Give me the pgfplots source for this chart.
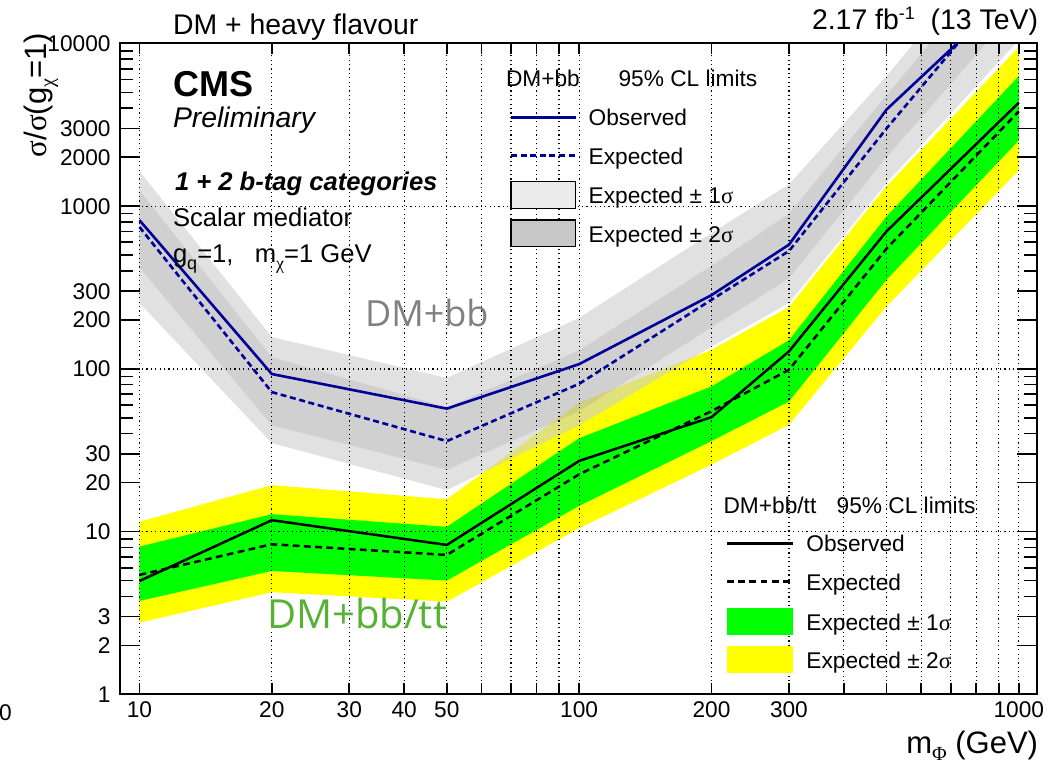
\documentclass[border=0pt]{standalone}
\usepackage{pgfplots}
\pgfplotsset{compat=1.18}
\usepackage{pgfplotstable}
\usepgfplotslibrary{fillbetween}
\usepackage{fontspec}
\setmainfont{Liberation Sans}
\newfontfamily\symf{Liberation Serif}
\newfontfamily\labf{Open Sans}
\definecolor{bblue}{RGB}{0,0,153}
\definecolor{bgreen}{RGB}{0,255,0}
\definecolor{byellow}{RGB}{255,255,0}
\definecolor{tgreen}{RGB}{87,178,52}
\definecolor{tgray}{RGB}{128,128,128}
\definecolor{band2}{RGB}{205,205,205}
\newcommand\fa{\fontsize{11.35}{13.6}\selectfont}
\newcommand\fb{\fontsize{12.8}{15.4}\selectfont}
\newcommand\fc{\fontsize{14.2}{17}\selectfont}
\newcommand\fd{\fontsize{15.5}{18}\selectfont}
\newcommand\sub[1]{\raisebox{-3.2pt}{\fontsize{9}{9}\selectfont #1}}
\newcommand\subb[1]{\raisebox{-3.6pt}{\fontsize{10}{10}\selectfont #1}}
\newcommand\yl[1]{#1\kern1.2pt}

% DM+bb/tt combined limits
\pgfplotstableread{
m obs exp lo1 hi1 lo2 hi2
10 4.97 5.42 3.75 8.09 2.76 11.5
20 11.75 8.36 5.73 12.8 4.24 19.3
50 8.28 7.19 5.0 10.7 3.71 15.8
100 27.2 22.5 14.4 37.5 10.5 62
200 50.5 55 36 78 25.8 131
300 128 98.7 63 150 45.3 240
500 700 548 353 865 242 1325
1000 4330 3830 2540 6310 1660 9500
}\bbtt

% DM+bb limits
\pgfplotstableread{
m obs exp lo1 hi1 lo2 hi2
10 820 745 420 1250 254 1640
20 93 72 45 118 35 157
50 57 36 24 58 18 88
100 107 81 55 130 45 206
200 284 266 180 430 137 684
300 580 530 360 900 254 1361
500 3925 3000 2000 4800 1390 6300
1000 22700 28000 17000 45000 10500 60000
}\bb

\pgfplotsset{layers/rootlike/.define layer set={axis background,axis grid,pre main,main,axis ticks,axis lines,axis tick labels,axis descriptions,axis foreground}{}}
\tikzset{txt/.style={inner sep=0pt, outer sep=0pt}}

\begin{document}
\begin{tikzpicture}
\begin{axis}[
  set layers=rootlike,
  at={(60pt,-347.15pt)}, anchor=south west,
  scale only axis, width=458.25pt, height=325.4pt,
  xmode=log, ymode=log,
  xmin=9.03, xmax=1097, ymin=1, ymax=10000,
  axis line style={line width=1pt},
  every tick/.style={black, line width=0.8pt},
  tick align=inside,
  xtick={10,20,30,40,50,60,70,80,90,100,200,300,400,500,600,700,800,900,1000},
  xticklabels={10,20,30,40,50,\mbox{},\mbox{},\mbox{},\mbox{},100,200,300,\mbox{},\mbox{},\mbox{},\mbox{},\mbox{},\mbox{},1000},
  xtick style={/pgfplots/major tick length=5.5pt},
  extra x ticks={10,20,50,100,200,1000},
  extra x tick labels={\mbox{},\mbox{},\mbox{},\mbox{},\mbox{},\mbox{}},
  extra x tick style={grid=none, /pgfplots/major tick length=9.5pt},
  ytick={1,10,100,1000,10000},
  yticklabels={\yl{1},\yl{10},\yl{100},\yl{1000},\yl{10000}},
  ytick style={/pgfplots/major tick length=10pt},
  extra y ticks={2,3,20,30,200,300,2000,3000},
  extra y tick labels={\yl{2},\yl{3},\yl{20},\yl{30},\yl{200},\yl{300},\yl{2000},\yl{3000}},
  extra y tick style={grid=none, /pgfplots/major tick length=6.5pt},
  minor ytick={4,5,6,7,8,9,40,50,60,70,80,90,400,500,600,700,800,900,4000,5000,6000,7000,8000,9000},
  minor tick length=6.5pt,
  xmajorgrids, ymajorgrids,
  major grid style={black, line width=0.6pt, dash pattern=on 0.6pt off 1.6pt},
  ticklabel style={font=\fa},
  no markers,
]
% DM+bb/tt bands
\addplot[draw=none, name path=yhi] table[x=m,y=hi2]{\bbtt};
\addplot[draw=none, name path=ylo] table[x=m,y=lo2]{\bbtt};
\addplot[fill=byellow, draw=none] fill between[of=yhi and ylo];
\addplot[draw=none, name path=ghi] table[x=m,y=hi1]{\bbtt};
\addplot[draw=none, name path=glo] table[x=m,y=lo1]{\bbtt};
\addplot[fill=bgreen, draw=none] fill between[of=ghi and glo];
% DM+bb bands
\addplot[draw=none, name path=bhi2] table[x=m,y=hi2]{\bb};
\addplot[draw=none, name path=blo2] table[x=m,y=lo2]{\bb};
\addplot[fill=band2, fill opacity=0.6, draw=none] fill between[of=bhi2 and blo2];
\addplot[draw=none, name path=bhi1] table[x=m,y=hi1]{\bb};
\addplot[draw=none, name path=blo1] table[x=m,y=lo1]{\bb};
\addplot[fill=black!40, fill opacity=0.24, draw=none] fill between[of=bhi1 and blo1];
% lines
\addplot[black, line width=1.25pt, dash pattern=on 3.4pt off 2.2pt] table[x=m,y=exp]{\bbtt};
\addplot[black, line width=1.25pt] table[x=m,y=obs]{\bbtt};
\addplot[bblue, line width=1.3pt, dash pattern=on 3pt off 1.8pt] table[x=m,y=exp]{\bb};
\addplot[bblue, line width=1.3pt] table[x=m,y=obs]{\bb};
\end{axis}

% titles and labels
\node[txt, anchor=base west, font=\fc] at (86.5pt,-17.5pt) {DM + heavy flavour};
\node[txt, anchor=base east, font=\fc] at (519pt,-15pt) {2.17 fb\raisebox{5pt}{\fontsize{9}{9}\selectfont -1}\ \ (13 TeV)};
\node[txt, rotate=90, anchor=base east, font=\fd] at (23.3pt,-16.5pt) {{\symf σ}/{\symf σ}(g\subb{{\symf χ}}=1)};
\node[txt, anchor=base east, font=\fd] at (519pt,-376.7pt) {m\subb{{\symf Φ}} (GeV)};
\node[txt, anchor=base east, font=\fa] at (5.85pt,-360pt) {0};

\node[txt, anchor=base west, font=\fontsize{18}{21}\selectfont\bfseries] at (86.7pt,-48.3pt) {CMS};
\node[txt, anchor=base west, font=\fc\itshape] at (86.5pt,-63.8pt) {Preliminary};
\node[txt, anchor=base west, font=\fb\bfseries\itshape] at (87.5pt,-95.3pt) {1 + 2 b-tag categories};
\node[txt, anchor=base west, font=\fb] at (86.5pt,-113pt) {Scalar mediator};
\node[txt, anchor=base west, font=\fb] at (86.5pt,-131.3pt) {g\sub{q}=1,\ \ \ m\sub{{\symf χ}}=1 GeV};

\node[txt, anchor=base west, font=\labf\fontsize{18}{21}\selectfont, text=tgray] at (182.5pt,-163pt) {DM+bb};
\node[txt, anchor=base west, font=\labf\fontsize{20}{23}\selectfont, text=tgreen] at (133.5pt,-314.2pt) {DM+bb/tt};

% legend DM+bb
\node[txt, anchor=base west, font=\fa] at (253pt,-43.5pt) {DM+bb};
\node[txt, anchor=base west, font=\fa] at (309.3pt,-43.5pt) {95\% CL limits};
\draw[bblue, line width=1.3pt] (255.5pt,-58.65pt) -- (287.75pt,-58.65pt);
\node[txt, anchor=base west, font=\fa] at (294.35pt,-63pt) {Observed};
\draw[bblue, line width=1.3pt, dash pattern=on 3pt off 1.8pt] (255.5pt,-77.85pt) -- (287.75pt,-77.85pt);
\node[txt, anchor=base west, font=\fa] at (294.35pt,-82.2pt) {Expected};
\draw[fill=black!8, line width=0.6pt] (255.5pt,-90.85pt) rectangle (287.75pt,-104.15pt);
\node[txt, anchor=base west, font=\fa] at (294.35pt,-101.8pt) {Expected ± 1{\symf σ}};
\draw[fill=black!22, line width=0.6pt] (255.5pt,-110pt) rectangle (287.75pt,-123.35pt);
\node[txt, anchor=base west, font=\fa] at (294.35pt,-121pt) {Expected ± 2{\symf σ}};

% legend DM+bb/tt
\node[txt, anchor=base west, font=\fa] at (361.8pt,-256.7pt) {DM+bb/tt};
\node[txt, anchor=base west, font=\fa] at (418.35pt,-256.7pt) {95\% CL limits};
\draw[black, line width=1.25pt] (363.5pt,-271.65pt) -- (396.25pt,-271.65pt);
\node[txt, anchor=base west, font=\fa] at (403.2pt,-275.95pt) {Observed};
\draw[black, line width=1.25pt, dash pattern=on 3.4pt off 2.2pt] (363.5pt,-290.85pt) -- (396.25pt,-290.85pt);
\node[txt, anchor=base west, font=\fa] at (403.2pt,-295.15pt) {Expected};
\fill[bgreen] (363.5pt,-303.85pt) rectangle (396.25pt,-317.5pt);
\node[txt, anchor=base west, font=\fa] at (403.2pt,-315pt) {Expected ± 1{\symf σ}};
\fill[byellow] (363.5pt,-322.85pt) rectangle (396.25pt,-336.65pt);
\node[txt, anchor=base west, font=\fa] at (403.2pt,-334.05pt) {Expected ± 2{\symf σ}};

\pgfresetboundingbox
\path[use as bounding box] (0pt,0pt) rectangle (524.5pt,-382.5pt);
\end{tikzpicture}
\end{document}
